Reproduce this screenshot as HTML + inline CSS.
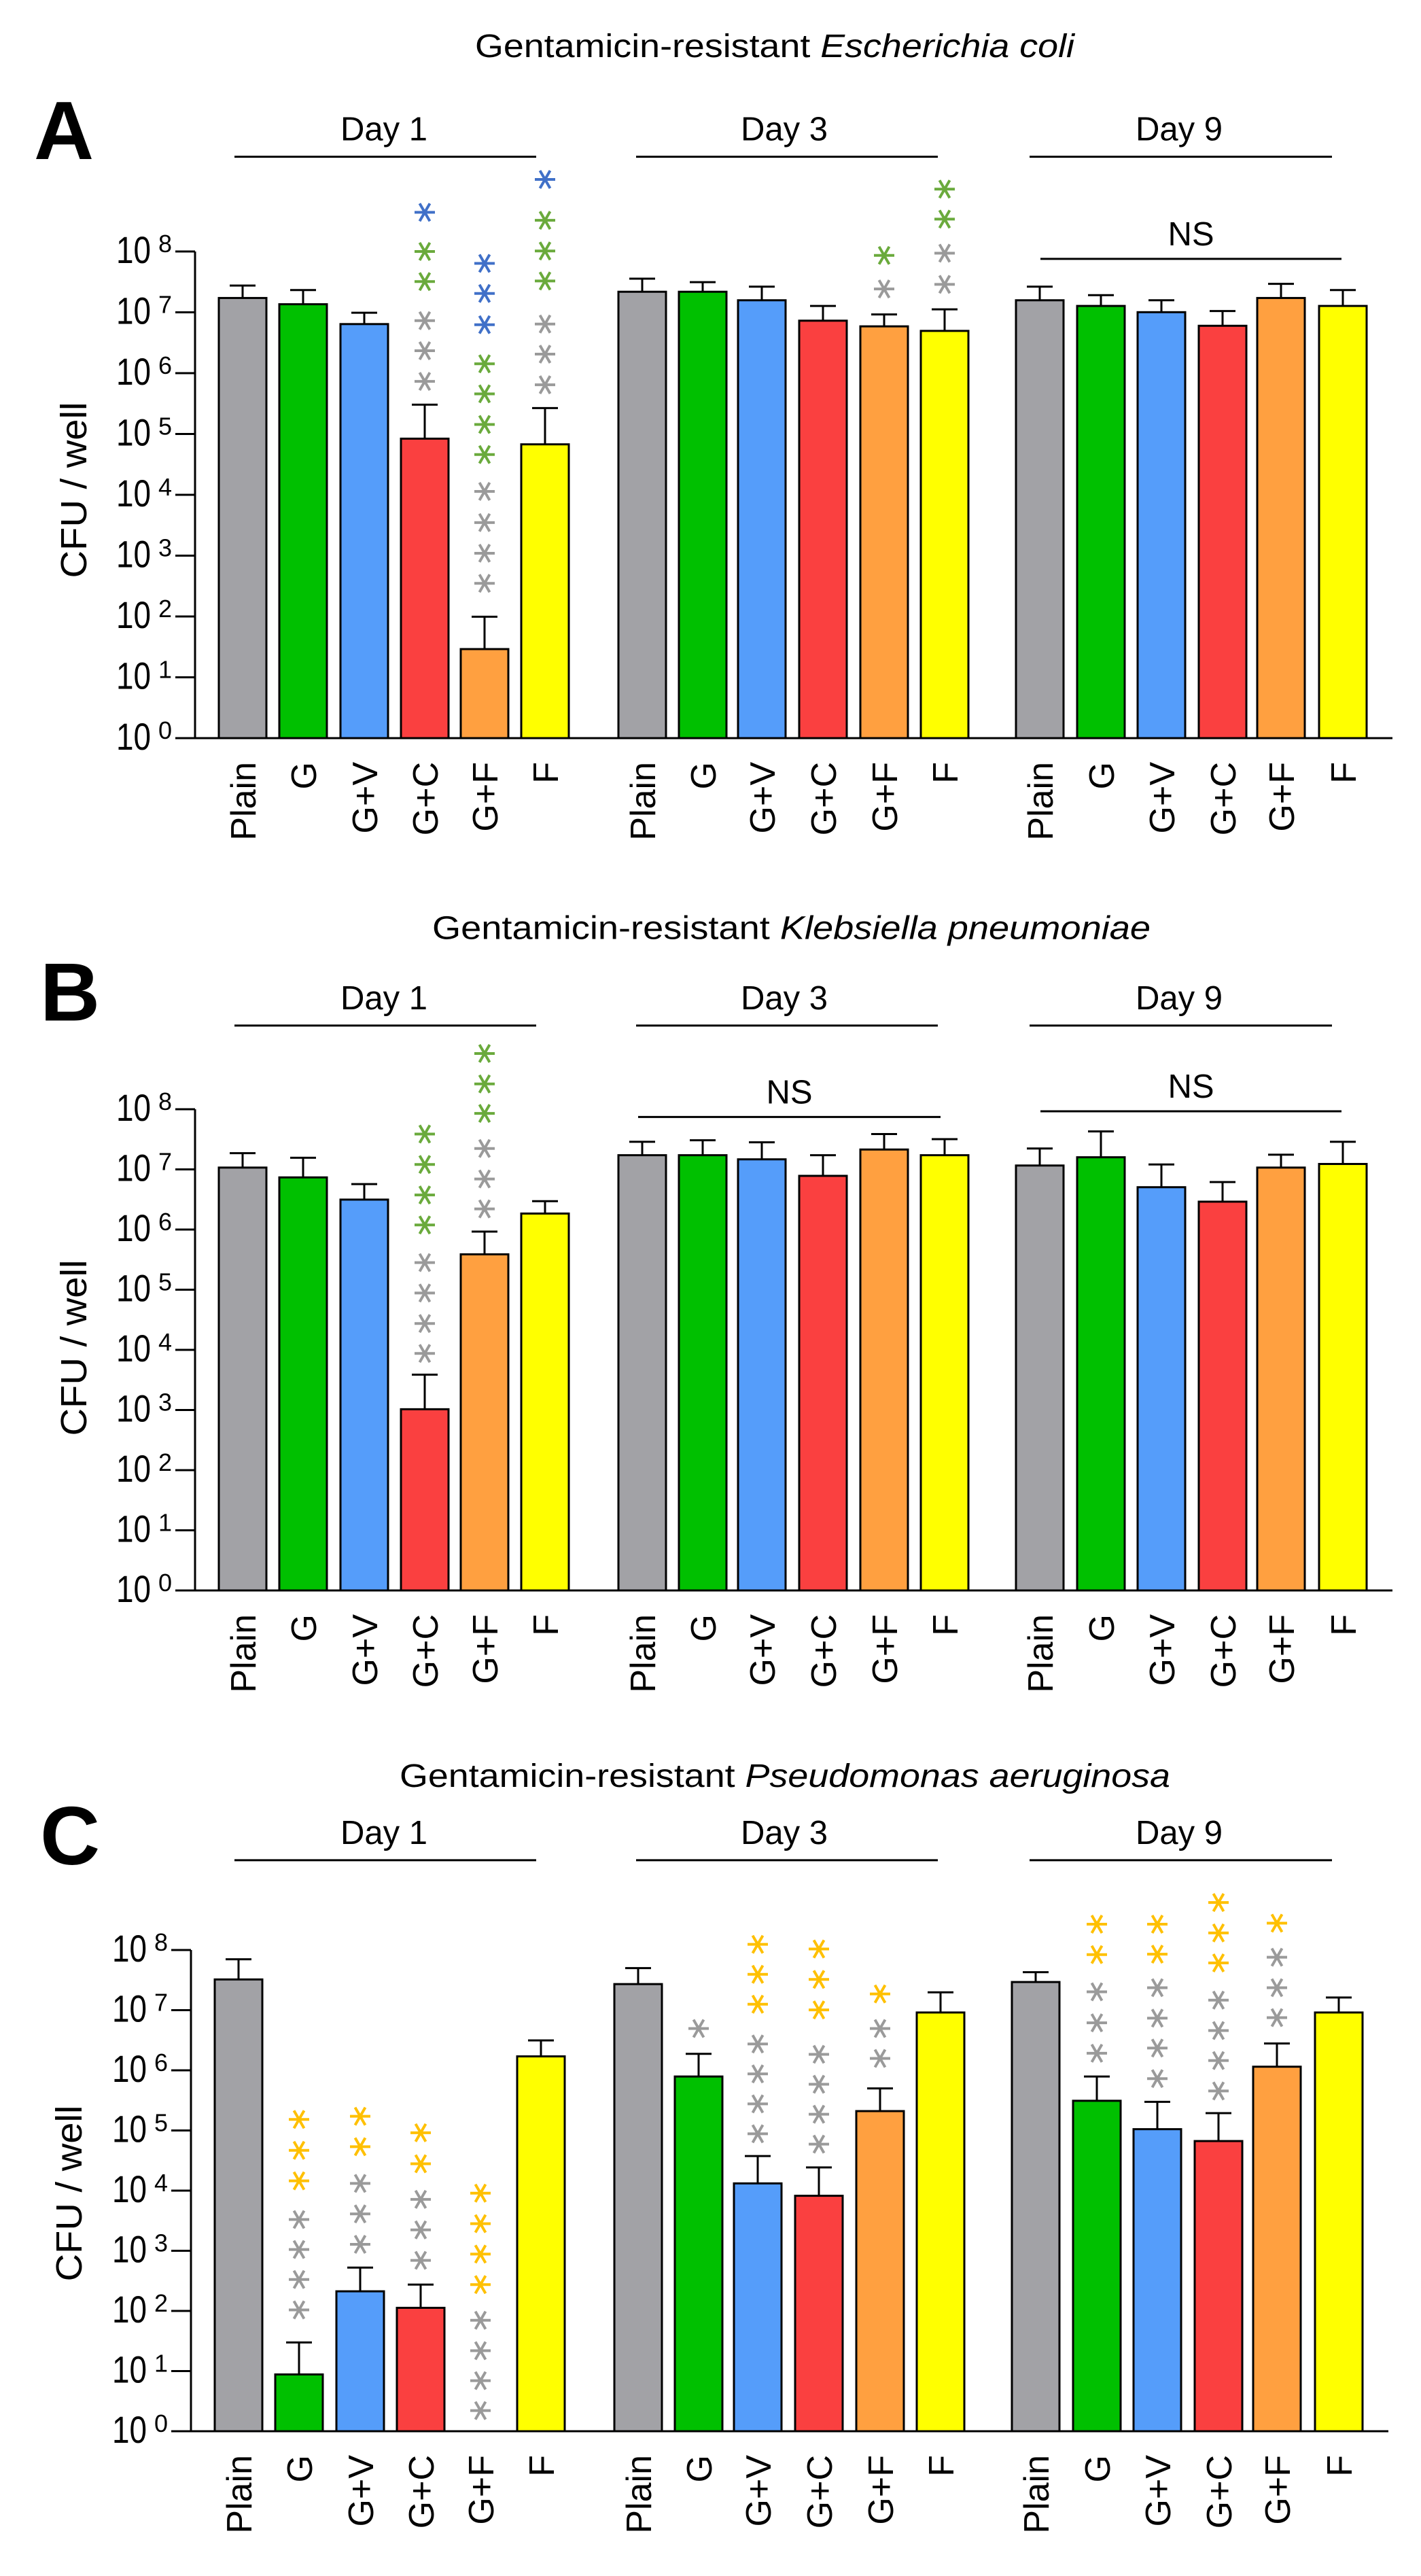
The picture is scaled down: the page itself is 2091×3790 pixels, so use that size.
<!DOCTYPE html>
<html><head><meta charset="utf-8"><style>
html,body{margin:0;padding:0;background:#fff;}
svg{display:block;}
</style></head><body>
<svg id="s" xmlns="http://www.w3.org/2000/svg" width="2091" height="3790" viewBox="0 0 2091 3790"></svg>
<script>
const S=document.getElementById('s');
let h='';
const COL=['#a2a2a6','#00c000','#559dfa','#fa4040','#ffa040','#ffff00'];
const AC={b:'#4070c8',g:'#6aaa3c',k:'#9a9a9a',o:'#ffc000'};
const LBL=['Plain','G','G+V','G+C','G+F','F'];
const BX=[[322,411,501,590,678,767],[910,999,1086,1176,1266,1355],[1495,1585,1674,1764,1850,1941]];
const F='font-family="Liberation Sans, Arial, sans-serif"';
function ast(x,y,c){
  const r=15;let s='';
  for(const a of [0,60,120]){const t=a*Math.PI/180;const dx=r*Math.cos(t),dy=r*Math.sin(t);
    s+=`<line x1="${(x-dx).toFixed(1)}" y1="${(y-dy).toFixed(1)}" x2="${(x+dx).toFixed(1)}" y2="${(y+dy).toFixed(1)}" stroke="${c}" stroke-width="4"/>`;}
  return s;
}
function panel(p){
  const y0=p.y0,D=p.D,sx=p.sx;const Y=l=>y0-l*D;
  // title
  h+=`<text x="${p.tx}" y="${Y(p.tl)}" ${F} font-size="48" textLength="${p.tw}" lengthAdjust="spacingAndGlyphs">Gentamicin-resistant <tspan font-style="italic">${p.sp}</tspan></text>`;
  // letter
  h+=`<text x="${p.lx}" y="${Y(p.ll)}" ${F} font-size="122" font-weight="bold">${p.L}</text>`;
  // day labels
  const days=[['Day 1',345,789,565],['Day 3',936,1380,1154],['Day 9',1515,1960,1735]];
  for(const d of days){
    h+=`<line x1="${d[1]}" x2="${d[2]}" y1="${Y(p.dl)}" y2="${Y(p.dl)}" stroke="#000" stroke-width="3"/>`;
    h+=`<text x="${d[3]}" y="${Y(p.dl)-24}" ${F} font-size="49" text-anchor="middle">${d[0]}</text>`;
  }
  // NS
  for(const n of p.ns){
    h+=`<line x1="${n[0]}" x2="${n[1]}" y1="${Y(n[2])}" y2="${Y(n[2])}" stroke="#000" stroke-width="3"/>`;
    h+=`<text x="${(n[0]+n[1])/2}" y="${Y(n[2])-20}" ${F} font-size="49" text-anchor="middle">NS</text>`;
  }
  // axis label
  h+=`<text transform="translate(${p.ax},${p.ay}) rotate(-90)" ${F} font-size="54" text-anchor="middle" textLength="259" lengthAdjust="spacingAndGlyphs">CFU / well</text>`;
  // y axis
  const axX=287+sx;
  h+=`<line x1="${axX}" x2="${axX}" y1="${Y(8)}" y2="${y0+1.5}" stroke="#000" stroke-width="3"/>`;
  h+=`<line x1="${axX}" x2="${2049+sx}" y1="${y0}" y2="${y0}" stroke="#000" stroke-width="3"/>`;
  for(let i=0;i<=8;i++){const y=Y(i);
    h+=`<line x1="${258+sx}" x2="${axX}" y1="${y}" y2="${y}" stroke="#000" stroke-width="3"/>`;
    h+=`<text x="${171+sx}" y="${y+17}" ${F} font-size="56" textLength="51" lengthAdjust="spacingAndGlyphs">10</text>`;
    h+=`<text x="${233+sx}" y="${y+1}" ${F} font-size="36">${i}</text>`;
  }
  // bars
  for(let g=0;g<3;g++)for(let b=0;b<6;b++){
    const x=BX[g][b]+sx,w=70,cx=x+w/2;const v=p.v[g][b];
    if(v[0]>0){
      const yt=Y(v[0]),ye=Y(v[1]);
      h+=`<line x1="${cx}" x2="${cx}" y1="${ye}" y2="${yt}" stroke="#000" stroke-width="3"/>`;
      h+=`<line x1="${cx-19}" x2="${cx+19}" y1="${ye}" y2="${ye}" stroke="#000" stroke-width="3"/>`;
      h+=`<rect x="${x}" y="${yt}" width="${w}" height="${y0-yt}" fill="${COL[b]}" stroke="#000" stroke-width="3"/>`;
    }
    const lab=`<text transform="translate(${cx+19},${y0+35}) rotate(-90)" ${F} font-size="52" text-anchor="end">${LBL[b]}</text>`;
    h+=lab;
    const a=(p.a[g]||{})[b];
    if(a)for(const q of a)h+=ast(cx,Y(q[1]),AC[q[0]]);
  }
}
// helper to convert display coords d (zoom) to log
const LA=d=>(1308-d)/107.25, LB=d=>(1362-d)/116.5, LC=d=>(1296-d)/116.5;
const mk=(f,list)=>list.map(s=>[s[0],f(s[1])]);
function seq(f,c,arr){return arr.map(d=>[c,f(d)]);}
panel({L:'A',y0:1086,D:89.5,sx:0,tx:699,tw:882,tl:LA(107),sp:'Escherichia coli',lx:50,ll:LA(287),dl:LA(283),
 ax:127,ay:721,
 ns:[[1531,1974,LA(463)]],
 v:[[[LA(532),LA(510)],[LA(543),LA(518)],[LA(578),LA(558)],[LA(780),LA(720)],[LA(1151),LA(1094)],[LA(790),LA(726)]],
    [[LA(521),LA(498)],[LA(521),LA(504)],[LA(536),LA(512)],[LA(572),LA(546)],[LA(582),LA(561)],[LA(590),LA(552)]],
    [[LA(536),LA(512)],[LA(546),LA(527)],[LA(557),LA(536)],[LA(581),LA(555)],[LA(532),LA(507)],[LA(546),LA(518)]]],
 a:[{3:[...seq(LA,'b',[381]),...seq(LA,'g',[450,503]),...seq(LA,'k',[572,625,679])],
     4:[...seq(LA,'b',[471,524,579]),...seq(LA,'g',[648,701,755,808]),...seq(LA,'k',[873,928,982,1035])],
     5:[...seq(LA,'b',[323]),...seq(LA,'g',[395,449,502]),...seq(LA,'k',[578,631,685])]},
    {4:[...seq(LA,'g',[457]),...seq(LA,'k',[516])],
     5:[...seq(LA,'g',[340,393]),...seq(LA,'k',[453,508])]},{}]
});
panel({L:'B',y0:2340,D:88.5,sx:0,tx:636,tw:1057,tl:LB(100),sp:'Klebsiella pneumoniae',lx:59,ll:LB(258),dl:LB(268),
 ax:127,ay:1983,
 ns:[[939,1384,LB(445)],[1531,1974,LB(434)]],
 v:[[[LB(543),LB(515)],[LB(562),LB(524)],[LB(605),LB(575)],[LB(1011),LB(944)],[LB(711),LB(667)],[LB(632),LB(608)]],
    [[LB(519),LB(493)],[LB(519),LB(490)],[LB(527),LB(494)],[LB(559),LB(519)],[LB(508),LB(478)],[LB(519),LB(488)]],
    [[LB(539),LB(506)],[LB(523),LB(473)],[LB(581),LB(537)],[LB(609),LB(571)],[LB(543),LB(518)],[LB(536),LB(493)]]],
 a:[{3:[...seq(LB,'g',[478,537,596,654]),...seq(LB,'k',[727,786,845,903])],
     4:[...seq(LB,'g',[322,381,438]),...seq(LB,'k',[506,565,623])]},{},{}]
});
panel({L:'C',y0:3577,D:88.5,sx:-6,tx:588,tw:1134,tl:LC(48),sp:'Pseudomonas aeruginosa',lx:59,ll:LC(198),dl:LC(190),
 ax:120,ay:3227,
 ns:[],
 v:[[[LC(421),LC(382)],[LC(1186),LC(1124)],[LC(1025),LC(979)],[LC(1057),LC(1012)],[0,0],[LC(570),LC(539)]],
    [[LC(430),LC(399)],[LC(609),LC(565)],[LC(816),LC(763)],[LC(840),LC(785)],[LC(676),LC(632)],[LC(485),LC(446)]],
    [[LC(426),LC(407)],[LC(656),LC(609)],[LC(711),LC(658)],[LC(734),LC(680)],[LC(590),LC(545)],[LC(485),LC(456)]]],
 a:[{1:[...seq(LC,'o',[692,752,811]),...seq(LC,'k',[886,944,1002,1061])],
     2:[...seq(LC,'o',[686,745]),...seq(LC,'k',[816,875,934])],
     3:[...seq(LC,'o',[718,778]),...seq(LC,'k',[847,906,965])],
     4:[...seq(LC,'o',[835,894,953,1012]),...seq(LC,'k',[1081,1140,1198,1256])]},
    {1:[...seq(LC,'k',[516])],
     2:[...seq(LC,'o',[353,411,469]),...seq(LC,'k',[546,604,662,720])],
     3:[...seq(LC,'o',[362,421,480]),...seq(LC,'k',[566,624,682,740])],
     4:[...seq(LC,'o',[449]),...seq(LC,'k',[516,574])]},
    {1:[...seq(LC,'o',[314,373]),...seq(LC,'k',[445,505,564])],
     2:[...seq(LC,'o',[314,372]),...seq(LC,'k',[437,496,554,613])],
     3:[...seq(LC,'o',[272,331,389]),...seq(LC,'k',[461,520,578,637])],
     4:[...seq(LC,'o',[312]),...seq(LC,'k',[378,437,495])]}]
});
S.innerHTML=h;
</script>
</body></html>
